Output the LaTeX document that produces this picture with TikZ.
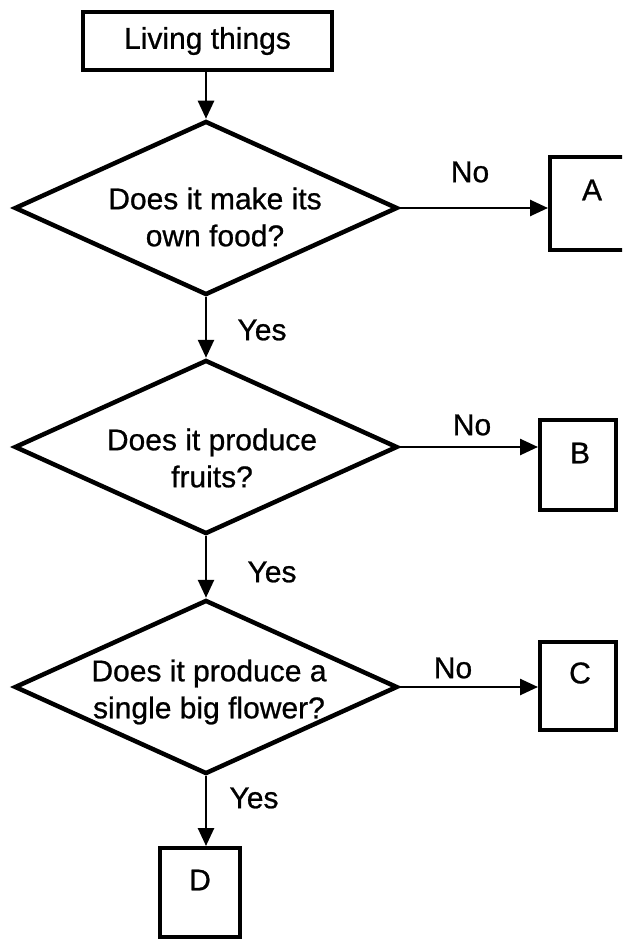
\documentclass[tikz,border=0pt]{standalone}
\usepackage{fontspec}
\setmainfont[FakeBold=0.8]{Liberation Sans}
\usetikzlibrary{shapes.geometric,arrows.meta}
\begin{document}
\begin{tikzpicture}[x=1pt,y=-1pt,
  txt/.style={font=\fontsize{30}{37}\selectfont, align=center, inner sep=0pt},
  boxnode/.style={draw, line width=4pt, inner sep=0pt},
  decision/.style={draw, diamond, line width=4.5pt, inner sep=0pt, minimum width=383pt, minimum height=174pt},
  flow/.style={line width=2.6pt, -{Triangle[length=18pt,width=16pt]}}]
\useasboundingbox (0,0) rectangle (622,939);
\clip (0,0) rectangle (622,939);
% start box
\node[boxnode, minimum width=249pt, minimum height=58pt, txt] (start) at (207.5,41) {Living things};
% decisions
\node[decision] (d1) at (206,208) {};
\node[decision] (d2) at (206,447) {};
\node[decision] (d3) at (206,687) {};
\node[txt] (t1) at (215,217) {Does it make its\\own food?};
\node[txt] (t2) at (212,458) {Does it produce\\fruits?};
\node[txt] (t3) at (209,692) {Does it produce a\\single big flower?};
% result boxes
\node[boxnode, minimum width=90pt, minimum height=93pt] (A) at (595,203.5) {};
\node[boxnode, minimum width=76pt, minimum height=90pt] (B) at (578,465) {};
\node[boxnode, minimum width=76pt, minimum height=88pt] (C) at (578,686) {};
\node[boxnode, minimum width=80pt, minimum height=89pt] (D) at (200,892.5) {};
\node[txt] (la) at (592,190) {A};
\node[txt] (lb) at (580,453) {B};
\node[txt] (lc) at (580,673) {C};
\node[txt] (ld) at (200,880) {D};
% connectors
\draw[flow] (start.south -| d1.north) -- (d1.north);
\draw[flow] (d1.south) -- (d2.north);
\draw[flow] (d2.south) -- (d3.north);
\draw[flow] (d3.south) -- (d3.south |- D.north);
\draw[flow] (d1.east) -- (d1.east -| A.west);
\draw[flow] (d2.east) -- (d2.east -| B.west);
\draw[flow] (d3.east) -- (d3.east -| C.west);
% labels
\node[txt] (y1) at (262,330) {Yes};
\node[txt] (y2) at (272,572) {Yes};
\node[txt] (y3) at (254,798) {Yes};
\node[txt] (n1) at (470,172) {No};
\node[txt] (n2) at (472,425) {No};
\node[txt] (n3) at (453,668) {No};
\end{tikzpicture}
\end{document}
